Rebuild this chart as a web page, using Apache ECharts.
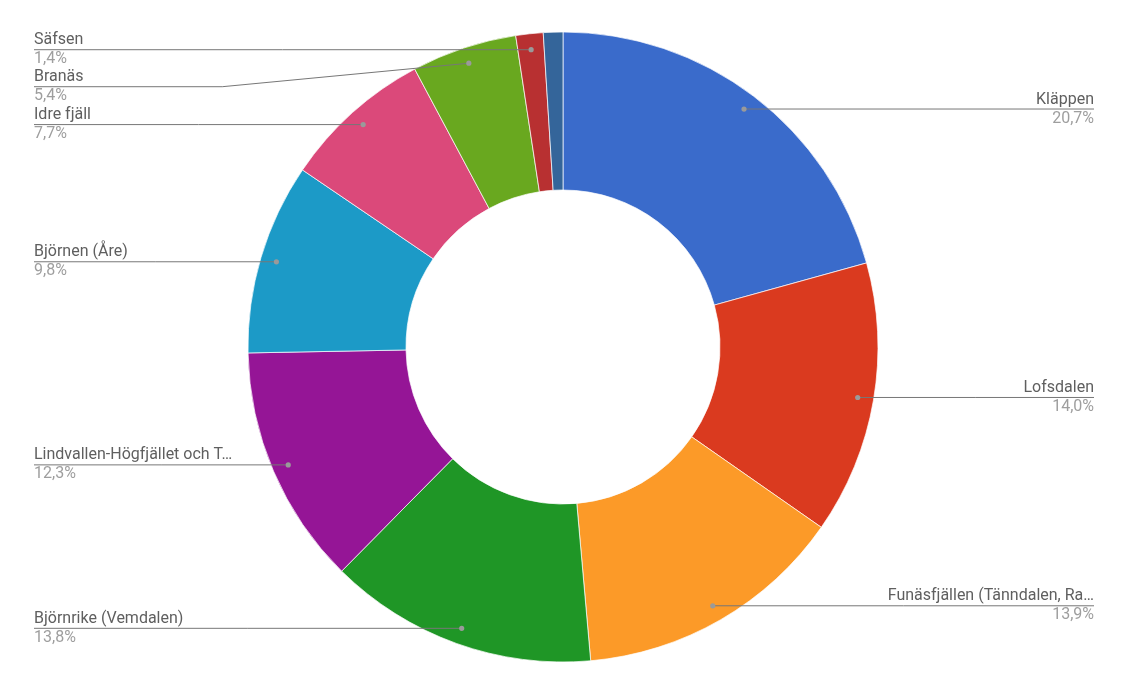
<!DOCTYPE html>
<html>
<head>
<meta charset="utf-8">
<script src="https://cdn.jsdelivr.net/npm/echarts@6/dist/echarts.min.js"></script>
<style>
html,body{margin:0;padding:0;background:#fff;}
#chart{width:1128px;height:692px;}
</style>
</head>
<body>
<div id="chart"></div>
<script>
// Data
const categories = [
  'Kläppen',
  'Lofsdalen',
  'Funäsfjällen (Tänndalen, Ramundberget, Funäsdalen)',
  'Björnrike (Vemdalen)',
  'Lindvallen-Högfjället och Tandådalen',
  'Björnen (Åre)',
  'Idre fjäll',
  'Branäs',
  'Säfsen',
  'Övrigt'
];
const values = [20.7, 14.0, 13.9, 13.8, 12.3, 9.8, 7.7, 5.4, 1.4, 1.0];
const hiddenLabels = ['Övrigt'];
const colors = ['#3a6bcb', '#da3a1f', '#fc9a28', '#1f9626', '#951596', '#1c9ac7', '#db497a', '#69a81f', '#b83031', '#34659a'];

const CX = 563, CY = 347, R0 = 157, R = 315, DOT_R = 299;
const total = values.reduce((a, b) => a + b, 0);

function shortName(n) {
  return n.length > 30 ? n.slice(0, 27) + '…' : n;
}
function pct(v) {
  return (v / total * 100).toFixed(1).replace('.', ',') + '%';
}

const chart = echarts.init(document.getElementById('chart'), null, {renderer: 'canvas'});

const sliceData = categories.map((c, i) => ({
  name: c,
  value: values[i],
  itemStyle: {color: colors[i]}
}));
const labelData = categories.map((c, i) => ({
  name: c,
  value: values[i],
  label: {show: hiddenLabels.indexOf(c) < 0},
  labelLine: {show: hiddenLabels.indexOf(c) < 0}
}));

// small marker dots at the start of each label line, from the slice mid-angles
const dots = [];
let cum = 0;
values.forEach((v, i) => {
  const mid = (cum + v / 2) / total;
  cum += v;
  if (hiddenLabels.indexOf(categories[i]) >= 0) return;
  const a = mid * 2 * Math.PI;
  dots.push({
    type: 'circle',
    silent: true,
    z: 100,
    shape: {cx: CX + DOT_R * Math.sin(a), cy: CY - DOT_R * Math.cos(a), r: 2.6},
    style: {fill: '#9a9a9a'}
  });
});

chart.setOption({
  animation: false,
  backgroundColor: '#ffffff',
  graphic: dots,
  series: [{
    type: 'pie',
    z: 2,
    silent: true,
    center: [CX, CY],
    radius: [R0, R],
    startAngle: 90,
    clockwise: true,
    itemStyle: {borderColor: '#ffffff', borderWidth: 0.7},
    label: {show: false},
    labelLine: {show: false},
    data: sliceData
  }, {
    type: 'pie',
    z: 5,
    silent: true,
    center: [CX, CY],
    radius: [R0, R],
    startAngle: 90,
    clockwise: true,
    avoidLabelOverlap: true,
    itemStyle: {color: 'rgba(0,0,0,0)', borderWidth: 0},
    data: labelData,
    label: {
      position: 'outside',
      alignTo: 'edge',
      edgeDistance: 34,
      formatter: function (p) {
        return '{n|' + shortName(p.name) + '}\n{p|' + pct(p.value) + '}';
      },
      rich: {
        n: {fontFamily: 'Roboto', fontSize: 16, color: '#5f5f5f', lineHeight: 19},
        p: {fontFamily: 'Roboto', fontSize: 16, color: '#9e9e9e', lineHeight: 19}
      }
    },
    labelLine: {
      show: true,
      length: -(R - DOT_R),
      length2: 0,
      minTurnAngle: 0,
      maxSurfaceAngle: 180,
      lineStyle: {color: '#777777', width: 1}
    },
    labelLayout: function (p) {
      const pts = p.labelLinePoints;
      if (!pts) return {};
      const p0 = pts[0];
      const k = DOT_R / R;
      const dot = [CX + (p0[0] - CX) * k, CY + (p0[1] - CY) * k];
      const rect = p.labelRect;
      const left = dot[0] < CX;
      const y = rect.y + rect.height / 2;
      const endX = left ? rect.x : rect.x + rect.width;
      const innerX = left ? rect.x + rect.width : rect.x;
      let points;
      if (Math.abs(dot[1] - y) > 2) {
        const bx = innerX + (dot[0] - innerX) * 0.36;
        points = [dot, [bx, y], [endX, y]];
      } else {
        points = [dot, [(dot[0] + endX) / 2, dot[1]], [endX, dot[1]]];
      }
      return {labelLinePoints: points};
    }
  }]
});
</script>
</body>
</html>
